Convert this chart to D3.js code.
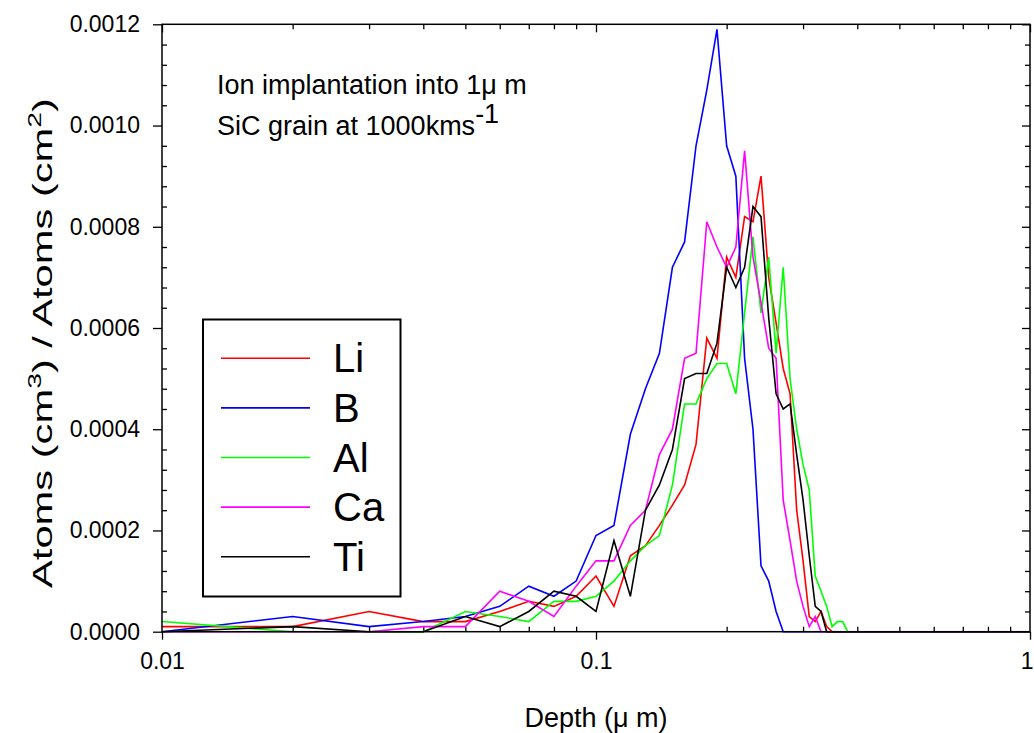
<!DOCTYPE html>
<html>
<head>
<meta charset="utf-8">
<script src="https://cdn.jsdelivr.net/npm/d3@7/dist/d3.min.js"></script>
<style>
  html, body { margin: 0; padding: 0; background: #fff; }
  svg { display: block; font-family: "Liberation Sans", Arial, sans-serif; }
</style>
</head>
<body>
<svg id="chart" width="1034" height="733"></svg>
<script>
// ---------- data (values in units of 1e-4 atoms cm^-3 / atoms cm^-2) ----------
const depth = [0.01,0.02,0.03,0.04,0.05,0.06,0.07,0.08,0.09,0.10,
               0.11,0.12,0.13,0.14,0.15,0.16,0.17,0.18,0.19,0.20,
               0.21,0.22,0.23,0.24,0.25,0.26,0.27,0.28,0.29,0.30,
               0.31,0.32,0.33,0.34,0.35,0.36,0.37,0.38,0.39,0.40,1.0];
const seriesNames = ["Li", "B", "Al", "Ca", "Ti"];
const li = [0.1,0.1,0.4,0.2,0.2,0.4,0.6,0.5,0.7,1.1,
            0.5,1.5,1.7,2.1,2.5,2.9,3.7,5.8,5.4,7.4,
            7.0,8.2,8.1,9.0,7.0,6.1,5.2,4.7,2.4,1.4,
            0.3,0.2,0.4,0.1,0,0,0,0,0,0,0];
const b  = [0,0.3,0.1,0.2,0.3,0.5,0.9,0.7,1.0,1.9,
            2.1,3.9,4.8,5.5,7.2,7.7,9.6,10.7,11.9,9.6,
            9.0,5.4,4.0,1.3,1.0,0.4,0,0,0,0,
            0,0,0,0,0,0,0,0,0,0,0];
const al = [0.2,0,0,0,0.4,0.3,0.2,0.6,0.6,0.7,
            1.0,1.4,1.7,1.9,2.9,4.5,4.5,5.0,5.3,5.3,
            4.7,6.3,7.8,6.3,7.4,5.5,7.2,5.0,4.0,3.3,
            2.8,1.1,0.8,0.5,0.1,0.2,0.2,0,0,0,0];
const ca = [0,0,0,0.1,0.1,0.8,0.6,0.3,0.9,1.4,
            1.4,2.1,2.4,3.5,4.0,5.4,5.5,8.1,7.6,7.2,
            7.6,9.5,7.4,6.5,5.6,5.4,2.6,1.8,1.0,0.5,
            0.1,0.3,0,0,0,0,0,0,0,0,0];
const ti = [0,0.1,0,0,0.3,0.1,0.4,0.8,0.7,0.4,
            1.8,0.7,2.4,2.9,3.6,5.0,5.1,5.1,5.7,7.2,
            6.8,7.2,8.4,8.2,6.2,4.7,4.4,4.5,3.5,2.6,
            1.5,0.5,0.4,0,0,0,0,0,0,0,0];
const seriesValues = [li, b, al, ca, ti];
const seriesColors = ["#ff0000", "#0000ff", "#00ff00", "#ff00ff", "#000000"];
const xTickValues = [0.01, 0.1, 1];
const xTickLabels = ["0.01", "0.1", "1"];
const yTickValues = [0, 0.0002, 0.0004, 0.0006, 0.0008, 0.0010, 0.0012];
const yTickLabels = ["0.0000", "0.0002", "0.0004", "0.0006", "0.0008", "0.0010", "0.0012"];

// ---------- layout ----------
const L = 162, R = 1030, T = 24.3, B = 631.7;
const svg = d3.select("#chart");
const x = d3.scaleLog().domain([0.01, 1]).range([L, R]);
const y = d3.scaleLinear().domain([0, 0.0012]).range([B, T]);

const xMinor = [];
[0.01, 0.1].forEach(d => { for (let i = 2; i <= 9; i++) xMinor.push(+(d * i).toFixed(3)); });
const yMinor = d3.range(0, 61).map(i => i * 0.00002).filter((v, i) => i % 2 === 0 && i % 10 !== 0);

function styleAxis(g) {
  g.select(".domain").remove();
  g.selectAll(".tick line").attr("stroke", "#000").attr("stroke-width", 1.3);
}

// minor ticks (inside)
svg.append("g").attr("transform", `translate(0,${B})`)
  .call(d3.axisTop(x).tickValues(xMinor).tickSize(5).tickFormat(""))
  .call(styleAxis);
svg.append("g").attr("transform", `translate(0,${T})`)
  .call(d3.axisBottom(x).tickValues(xMinor).tickSize(5).tickFormat(""))
  .call(styleAxis);
svg.append("g").attr("transform", `translate(${L},0)`)
  .call(d3.axisRight(y).tickValues(yMinor).tickSize(5).tickFormat(""))
  .call(styleAxis);
svg.append("g").attr("transform", `translate(${R},0)`)
  .call(d3.axisLeft(y).tickValues(yMinor).tickSize(5).tickFormat(""))
  .call(styleAxis);
// major ticks
svg.append("g").attr("transform", `translate(0,${T})`)
  .call(d3.axisBottom(x).tickValues(xTickValues).tickSize(8).tickFormat(""))
  .call(styleAxis);
svg.append("g").attr("transform", `translate(${R},0)`)
  .call(d3.axisLeft(y).tickValues(yTickValues).tickSize(8).tickFormat(""))
  .call(styleAxis);

const xAxis = svg.append("g").attr("transform", `translate(0,${B})`)
  .call(d3.axisBottom(x).tickValues(xTickValues).tickSize(8).tickPadding(13)
        .tickFormat((d, i) => xTickLabels[i]))
  .call(styleAxis);
xAxis.selectAll("text").attr("font-size", 23).attr("fill", "#000")
  .attr("font-family", "Liberation Sans, Arial, sans-serif");
xAxis.selectAll(".tick").filter(d => d === 1).select("text").attr("text-anchor", "end").attr("x", 3);

const yAxis = svg.append("g").attr("transform", `translate(${L},0)`)
  .call(d3.axisLeft(y).tickValues(yTickValues).tickSize(9).tickPadding(13)
        .tickFormat((d, i) => yTickLabels[i]))
  .call(styleAxis);
yAxis.selectAll("text").attr("font-size", 23).attr("fill", "#000")
  .attr("font-family", "Liberation Sans, Arial, sans-serif");

// ---------- series ----------
const line = d3.line().x(d => x(d[0])).y(d => y(d[1] * 1e-4));
const plot = svg.append("g");
seriesValues.forEach((vals, si) => {
  plot.append("path")
    .datum(depth.map((d, i) => [d, vals[i]]))
    .attr("fill", "none")
    .attr("stroke", seriesColors[si])
    .attr("stroke-width", 1.6)
    .attr("stroke-linejoin", "miter")
    .attr("d", line);
});

// frame
svg.append("rect").attr("x", L).attr("y", T).attr("width", R - L).attr("height", B - T)
  .attr("fill", "none").attr("stroke", "#000").attr("stroke-width", 1.5);

// ---------- annotation ----------
const ann = svg.append("text").attr("x", 217).attr("y", 94).attr("font-size", 27).attr("fill", "#000");
ann.text("Ion implantation into 1μ m");
const ann2 = svg.append("text").attr("x", 217).attr("y", 135).attr("font-size", 27).attr("fill", "#000");
ann2.append("tspan").text("SiC grain at 1000kms");
ann2.append("tspan").attr("dy", -12).attr("font-size", 27).text("-1");

// ---------- legend ----------
const lg = svg.append("g");
lg.append("rect").attr("x", 203).attr("y", 319.5).attr("width", 197.5).attr("height", 277)
  .attr("fill", "#fff").attr("stroke", "#000").attr("stroke-width", 2);
seriesNames.forEach((name, i) => {
  const cy = 358.3 + i * 49.6;
  lg.append("line").attr("x1", 221).attr("x2", 310).attr("y1", cy).attr("y2", cy)
    .attr("stroke", seriesColors[i]).attr("stroke-width", 1.6);
  lg.append("text").attr("x", 333).attr("y", cy + 14).attr("font-size", 40).attr("fill", "#000").text(name);
});

// ---------- axis titles ----------
svg.append("text").attr("x", 596).attr("y", 727).attr("text-anchor", "middle")
  .attr("font-size", 27).attr("fill", "#000").text("Depth (μ m)");

// y title: stretched along its baseline to span the same length as in the reference
const ytG = svg.append("g").attr("transform", "translate(52,343) rotate(-90)");
const yt = ytG.append("text").attr("text-anchor", "middle").attr("font-size", 28).attr("fill", "#000");
yt.append("tspan").text("Atoms (cm");
yt.append("tspan").attr("dy", -11).attr("font-size", 19).text("3");
yt.append("tspan").attr("dy", 11).text(") / Atoms (cm");
yt.append("tspan").attr("dy", -11).attr("font-size", 19).text("2");
yt.append("tspan").attr("dy", 11).text(")");
const natural = yt.node().getBBox().width;
yt.attr("transform", `scale(${490 / natural},1)`);
</script>
</body>
</html>
